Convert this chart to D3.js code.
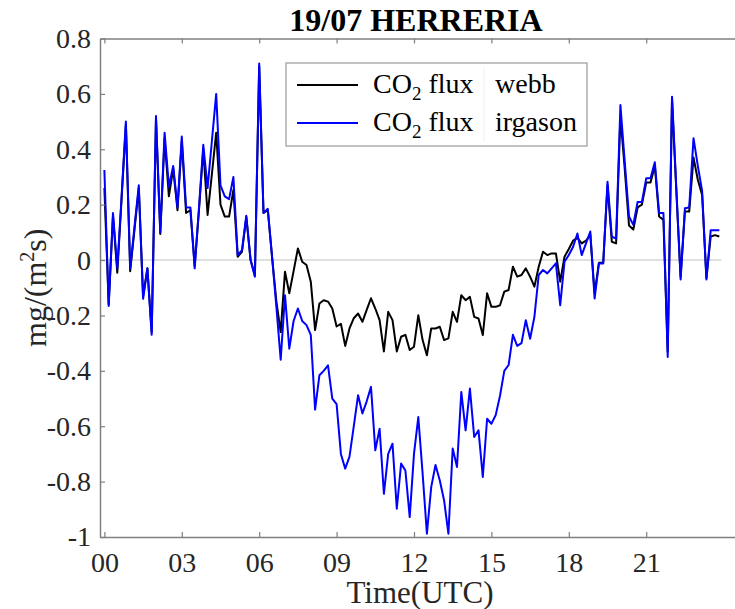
<!DOCTYPE html>
<html>
<head>
<meta charset="utf-8">
<script src="https://cdn.jsdelivr.net/npm/d3@7"></script>
<style>
  body { margin: 0; background: #fff; }
  svg { display: block; font-family: "Liberation Serif", "Times New Roman", serif; }
</style>
</head>
<body>
<svg id="chart" width="735" height="609"></svg>
<script>
// CO2 flux, 10-minute samples from 00:00 UTC
const webb = [
  0.26, -0.16, 0.16, -0.046, 0.22, 0.49, -0.04, 0.11, 0.26, -0.13,
  -0.03, -0.26, 0.51, 0.094, 0.44, 0.23, 0.33, 0.18, 0.43, 0.17,
  0.18, -0.02, 0.18, 0.40, 0.163, 0.31, 0.46, 0.20, 0.157, 0.157,
  0.253, 0.012, 0.03, 0.155, 0.0, -0.055, 0.70, 0.17, 0.18, 0.01,
  -0.15, -0.26, -0.042, -0.12, -0.04, 0.042, -0.006, -0.018, -0.078, -0.253,
  -0.157, -0.145, -0.15, -0.175, -0.24, -0.23, -0.31, -0.247, -0.21, -0.193,
  -0.223, -0.18, -0.138, -0.175, -0.217, -0.33, -0.187, -0.217, -0.33, -0.277,
  -0.27, -0.325, -0.313, -0.199, -0.289, -0.344, -0.247, -0.247, -0.241, -0.289,
  -0.283, -0.187, -0.223, -0.127, -0.145, -0.133, -0.205, -0.211, -0.271, -0.12,
  -0.169, -0.169, -0.163, -0.114, -0.108, -0.024, -0.06, -0.054, -0.03, -0.06,
  -0.096, -0.024, 0.03, 0.018, 0.024, 0.024, -0.078, 0.012, 0.04, 0.07,
  0.08, 0.06, 0.07, 0.09, -0.12, -0.01, -0.01, 0.27, 0.066, 0.06,
  0.52, 0.33, 0.125, 0.11, 0.19, 0.20, 0.28, 0.28, 0.34, 0.157,
  0.145, -0.33, 0.58, 0.25, -0.06, 0.175, 0.175, 0.37, 0.29, 0.235,
  -0.065, 0.085, 0.09, 0.085
];

const irgason = [
  0.325, -0.166, 0.17, -0.03, 0.23, 0.50, -0.03, 0.12, 0.27, -0.14,
  -0.03, -0.27, 0.52, 0.10, 0.46, 0.265, 0.34, 0.19, 0.446, 0.19,
  0.19, -0.03, 0.19, 0.416, 0.26, 0.43, 0.60, 0.27, 0.23, 0.22,
  0.30, 0.018, 0.036, 0.16, 0.0, -0.06, 0.71, 0.17, 0.185, 0.01,
  -0.17, -0.36, -0.127, -0.32, -0.22, -0.175, -0.22, -0.235, -0.27, -0.54,
  -0.416, -0.40, -0.38, -0.50, -0.52, -0.70, -0.753, -0.71, -0.60, -0.488,
  -0.554, -0.51, -0.458, -0.687, -0.609, -0.844, -0.70, -0.663, -0.898, -0.735,
  -0.76, -0.928, -0.70, -0.567, -0.77, -0.988, -0.82, -0.74, -0.796, -0.868,
  -0.988, -0.68, -0.747, -0.476, -0.615, -0.464, -0.639, -0.615, -0.783, -0.573,
  -0.591, -0.56, -0.49, -0.40, -0.379, -0.27, -0.31, -0.30, -0.217, -0.284,
  -0.205, -0.054, -0.036, -0.048, -0.03, -0.012, -0.163, -0.006, 0.018, 0.048,
  0.096, 0.018, 0.06, 0.103, -0.139, -0.012, -0.012, 0.283, 0.084, 0.078,
  0.56, 0.356, 0.157, 0.127, 0.21, 0.21, 0.295, 0.295, 0.353, 0.17,
  0.17, -0.35, 0.59, 0.26, -0.07, 0.187, 0.19, 0.44, 0.34, 0.25,
  -0.07, 0.108, 0.108, 0.108
];

const xTicks      = [0, 3, 6, 9, 12, 15, 18, 21];
const xTickLabels = ["00", "03", "06", "09", "12", "15", "18", "21"];
const yTicks      = [0.8, 0.6, 0.4, 0.2, 0, -0.2, -0.4, -0.6, -0.8, -1];
const yTickLabels = ["0.8", "0.6", "0.4", "0.2", "0", "-0.2", "-0.4", "-0.6", "-0.8", "-1"];
const seriesNames = ["webb", "irgason"];
const seriesColors = ["#000000", "#0000ff"];

drawFlux();

function drawFlux() {
  const svg = d3.select("#chart");

  const margin = {top: 38.5, right: -1, bottom: 72, left: 100},
    width  = +svg.attr("width") - margin.left - margin.right,
    height = +svg.attr("height") - margin.top - margin.bottom,
    axisColor = "#7f7f7f",
    textColor = "#262626";

  const times = d3.range(webb.length).map(i => i / 6); // hours, 10-min step

  const x = d3.scaleLinear().domain([-0.17, 24.48]).range([0, width]),
    y = d3.scaleLinear().domain([-1, 0.8]).range([height, 0]);

  const g = svg.append("g")
    .attr("transform", `translate(${margin.left},${margin.top})`);

  // zero reference line
  g.append("line")
    .attr("x1", x(x.domain()[0])).attr("x2", x(times[times.length - 1] + 0.08))
    .attr("y1", y(0)).attr("y2", y(0))
    .attr("stroke", "#d4d4d4").attr("stroke-width", 1.5);

  const line = d3.line()
    .x((d, i) => x(times[i]))
    .y(d => y(d));

  [webb, irgason].forEach((s, i) => {
    g.append("path")
      .datum(s)
      .attr("fill", "none")
      .attr("stroke", seriesColors[i])
      .attr("stroke-width", 2)
      .attr("stroke-linejoin", "round")
      .attr("d", line);
  });

  // Axes
  const styleAxis = sel => {
    sel.select(".domain").attr("stroke", axisColor).attr("stroke-width", 1.5);
    sel.selectAll(".tick line").attr("stroke", axisColor).attr("stroke-width", 1.2);
    sel.selectAll(".tick text").attr("fill", textColor);
  };

  g.append("g")
    .attr("transform", `translate(0,${height})`)
    .call(d3.axisBottom(x).tickValues(xTicks).tickSizeInner(-5).tickSizeOuter(0)
      .tickPadding(15).tickFormat((d, i) => xTickLabels[i]))
    .attr("font-family", null).attr("font-size", 28)
    .call(styleAxis);

  g.append("g")
    .call(d3.axisTop(x).tickValues(xTicks).tickSizeInner(-5).tickSizeOuter(0).tickFormat(""))
    .call(styleAxis);

  g.append("g")
    .call(d3.axisLeft(y).tickValues(yTicks).tickSizeInner(-5).tickSizeOuter(0)
      .tickPadding(9).tickFormat((d, i) => yTickLabels[i]))
    .attr("font-family", null).attr("font-size", 28)
    .call(styleAxis);

  // Title and axis labels
  svg.append("text")
    .attr("x", 416).attr("y", 31)
    .attr("text-anchor", "middle")
    .attr("font-size", 32).attr("font-weight", "bold")
    .attr("fill", "#000")
    .text("19/07 HERRERIA");

  svg.append("text")
    .attr("x", 420).attr("y", 603)
    .attr("text-anchor", "middle")
    .attr("font-size", 31).attr("fill", textColor)
    .text("Time(UTC)");

  const yl = svg.append("text")
    .attr("transform", `translate(46,${margin.top + height / 2}) rotate(-90)`)
    .attr("text-anchor", "middle")
    .attr("font-size", 32).attr("fill", textColor);
  yl.append("tspan").text("mg/(m");
  yl.append("tspan").attr("font-size", 20).attr("dy", -12).text("2");
  yl.append("tspan").attr("dy", 12).text("s)");

  // Legend
  const lg = svg.append("g").attr("transform", "translate(286,63)");
  lg.append("rect")
    .attr("width", 301).attr("height", 83)
    .attr("fill", "#fff").attr("stroke", "#a0a0a0").attr("stroke-width", 1.3);
  lg.append("line")
    .attr("x1", 198).attr("x2", 198).attr("y1", 4).attr("y2", 79)
    .attr("stroke", "#f0f0f0").attr("stroke-width", 1);

  seriesNames.forEach((name, i) => {
    const row = lg.append("g").attr("transform", `translate(0,${22 + i * 38})`);
    row.append("line")
      .attr("x1", 11).attr("x2", 72)
      .attr("stroke", seriesColors[i]).attr("stroke-width", 2);
    const t = row.append("text")
      .attr("x", 87).attr("y", 8)
      .attr("font-size", 28).attr("fill", "#000");
    t.append("tspan").text("CO");
    t.append("tspan").attr("font-size", 19).attr("dy", 7).text("2");
    t.append("tspan").attr("dy", -7).text(" flux");
    row.append("text")
      .attr("x", 209).attr("y", 8)
      .attr("font-size", 28).attr("fill", "#000")
      .text(name);
  });
}
</script>
</body>
</html>
